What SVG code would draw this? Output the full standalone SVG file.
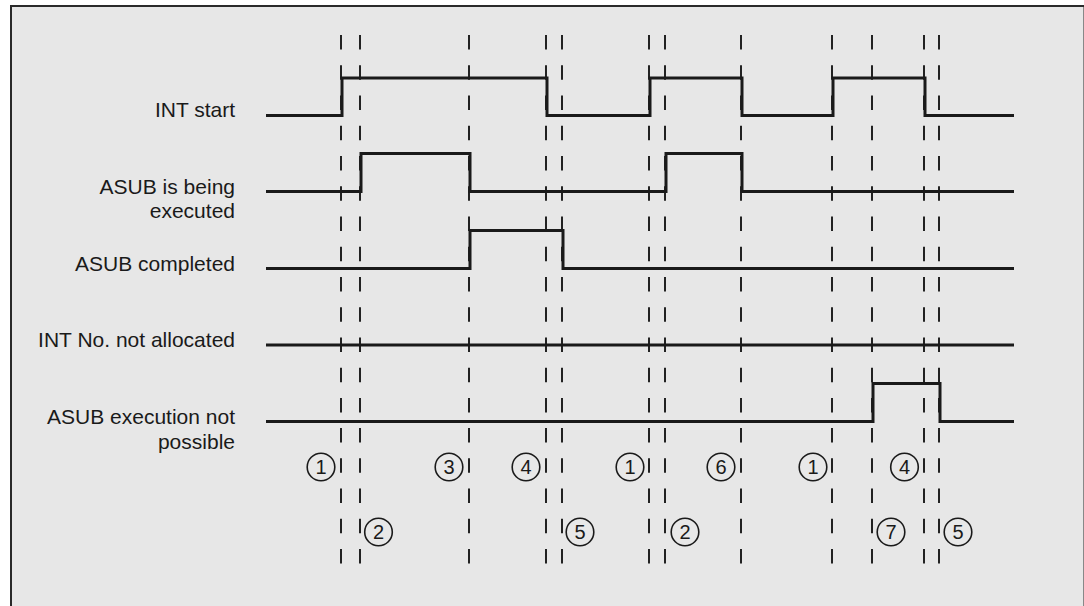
<svg xmlns="http://www.w3.org/2000/svg" width="1084" height="606" viewBox="0 0 1084 606">
<style>
.lbl{font-family:"Liberation Sans",Arial,sans-serif;font-size:21px;fill:#1a1a1a;text-anchor:end}
.sig{fill:none;stroke:#1a1a1a;stroke-width:3;stroke-linejoin:miter;stroke-linecap:butt}
.dash{stroke:#222;stroke-width:2;stroke-dasharray:14.5 15.74}
.circ{fill:#e8e8e8;stroke:#1a1a1a;stroke-width:1.6}
.num{font-family:"Liberation Sans",Arial,sans-serif;font-size:20px;fill:#1a1a1a;text-anchor:middle}
</style>
<rect x="0" y="0" width="1084" height="606" fill="#ffffff"/>
<rect x="11" y="6" width="1073" height="610" fill="#e7e7e7"/>
<line x1="11" y1="5" x2="11" y2="606" stroke="#2a2a2a" stroke-width="2"/>
<line x1="10" y1="6" x2="1084" y2="6" stroke="#2a2a2a" stroke-width="2"/>
<line x1="1083.5" y1="7" x2="1083.5" y2="606" stroke="#888" stroke-width="1"/>

<g id="labels">
<text class="lbl" x="235" y="117">INT start</text>
<text class="lbl" x="235" y="193.5">ASUB is being</text>
<text class="lbl" x="235" y="218">executed</text>
<text class="lbl" x="235" y="271">ASUB completed</text>
<text class="lbl" x="235" y="346.5">INT No. not allocated</text>
<text class="lbl" x="235" y="423.5">ASUB execution not</text>
<text class="lbl" x="235" y="448.5">possible</text>
</g>

<g id="markers">
<line class="dash" x1="341" y1="35" x2="341" y2="564"/>
<line class="dash" x1="360" y1="35" x2="360" y2="564"/>
<line class="dash" x1="469" y1="35" x2="469" y2="564"/>
<line class="dash" x1="546" y1="35" x2="546" y2="564"/>
<line class="dash" x1="562" y1="35" x2="562" y2="564"/>
<line class="dash" x1="649" y1="35" x2="649" y2="564"/>
<line class="dash" x1="665" y1="35" x2="665" y2="564"/>
<line class="dash" x1="741" y1="35" x2="741" y2="564"/>
<line class="dash" x1="832" y1="35" x2="832" y2="564"/>
<line class="dash" x1="872" y1="35" x2="872" y2="564"/>
<line class="dash" x1="924" y1="35" x2="924" y2="564"/>
<line class="dash" x1="939" y1="35" x2="939" y2="564"/>
</g>

<g id="signals">
<path id="int-start" class="sig" d="M266,115.5 H342 V78 H547 V115.5 H650 V78 H742 V115.5 H833 V78 H925 V115.5 H1014"/>
<path id="asub-exec" class="sig" d="M266,191.5 H361 V153.5 H470 V191.5 H666 V153.5 H742 V191.5 H1014"/>
<path id="asub-done" class="sig" d="M266,268.5 H470 V230.5 H563 V268.5 H1014"/>
<path id="int-not-alloc" class="sig" d="M266,345 H1014"/>
<path id="asub-not-possible" class="sig" d="M266,421.5 H873 V383.5 H940 V421.5 H1014"/>
</g>

<g id="callouts">
<g id="c1a"><circle class="circ" cx="321" cy="467" r="13.8"/><text class="num" x="321" y="474">1</text></g>
<g id="c3"><circle class="circ" cx="449" cy="467" r="13.8"/><text class="num" x="449" y="474">3</text></g>
<g id="c4a"><circle class="circ" cx="526" cy="467" r="13.8"/><text class="num" x="526" y="474">4</text></g>
<g id="c1b"><circle class="circ" cx="630" cy="467" r="13.8"/><text class="num" x="630" y="474">1</text></g>
<g id="c6"><circle class="circ" cx="721" cy="467" r="13.8"/><text class="num" x="721" y="474">6</text></g>
<g id="c1c"><circle class="circ" cx="813" cy="467" r="13.8"/><text class="num" x="813" y="474">1</text></g>
<g id="c4b"><circle class="circ" cx="904.5" cy="467" r="13.8"/><text class="num" x="904.5" y="474">4</text></g>
<g id="c2a"><circle class="circ" cx="378.5" cy="532" r="13.8"/><text class="num" x="378.5" y="539">2</text></g>
<g id="c5a"><circle class="circ" cx="580" cy="532" r="13.8"/><text class="num" x="580" y="539">5</text></g>
<g id="c2b"><circle class="circ" cx="685" cy="532" r="13.8"/><text class="num" x="685" y="539">2</text></g>
<g id="c7"><circle class="circ" cx="891" cy="532" r="13.8"/><text class="num" x="891" y="539">7</text></g>
<g id="c5b"><circle class="circ" cx="958" cy="532" r="13.8"/><text class="num" x="958" y="539">5</text></g>
</g>
</svg>
